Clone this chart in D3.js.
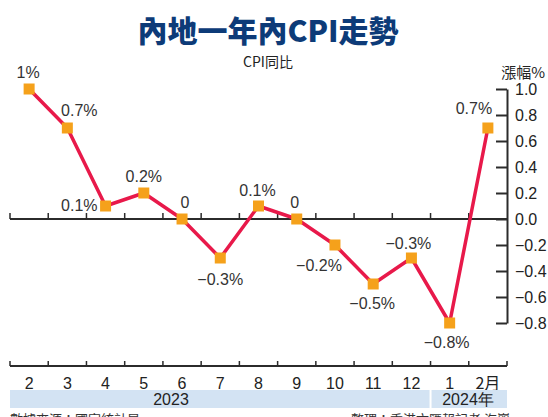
<!DOCTYPE html>
<html>
<head>
<meta charset="utf-8">
<script src="https://cdn.jsdelivr.net/npm/d3@7"></script>
<style>
  html, body { margin: 0; padding: 0; background: #fff; }
  svg { display: block; }
  .narrow { font-family: "Liberation Sans Narrow", "Arial Narrow", "Liberation Sans", sans-serif; }
  .cjk { font-family: "Noto Sans CJK TC", "Noto Sans CJK SC", sans-serif; }
</style>
</head>
<body>
<svg id="chart" width="548" height="417"></svg>
<script>
// ---- data ----
const months = ["2", "3", "4", "5", "6", "7", "8", "9", "10", "11", "12", "1", "2月"];
const monthKeys = ["2023-02","2023-03","2023-04","2023-05","2023-06","2023-07","2023-08","2023-09","2023-10","2023-11","2023-12","2024-01","2024-02"];
const cpiValues = [1.0, 0.7, 0.1, 0.2, 0, -0.3, 0.1, 0, -0.2, -0.5, -0.3, -0.8, 0.7];
const pointLabels = ["1%", "0.7%", "0.1%", "0.2%", "0", "−0.3%", "0.1%", "0", "−0.2%", "−0.5%", "−0.3%", "−0.8%", "0.7%"];
const yTicks = [1.0, 0.8, 0.6, 0.4, 0.2, 0.0, -0.2, -0.4, -0.6, -0.8];
const years = [
  { label: "2023", from: "2023-02", to: "2023-12" },
  { label: "2024年", from: "2024-01", to: "2024-02" }
];
const title = "內地一年內CPI走勢";
const subtitle = "CPI同比";
const yUnit = "漲幅%";
const sourceLeft = "數據來源：國家統計局";
const sourceRight = "整理：香港文匯報記者 海巖";

// label placement (layout config): [dx, dy, anchor]
const labelPlace = [
  [-1, -11, "middle"], [12, -12, "middle"], [-8, 5, "end"], [0, -11, "middle"],
  [3, -11, "middle"], [0, 27, "middle"], [-1, -10, "middle"], [-2, -11, "middle"],
  [-16, 26, "middle"], [-1, 25, "middle"], [-3, -9, "middle"], [-3, 25, "middle"],
  [-14, -14, "middle"]
];

// ---- layout ----
const svg = d3.select("#chart");
const left = 10, right = 507;
const x = d3.scaleBand().domain(monthKeys).range([left, right]);
const y = d3.scaleLinear().domain([-0.8, 1.0]).range([323, 89]);
const y0 = y(0);
const ink = "#2b2b2b";

// title
svg.append("text").attr("class", "cjk")
  .attr("x", 268).attr("y", 42).attr("text-anchor", "middle")
  .attr("font-size", 30).attr("font-weight", 900).attr("fill", "#0d3b78")
  .text(title);
svg.append("text").attr("class", "cjk")
  .attr("x", 268).attr("y", 67).attr("text-anchor", "middle")
  .attr("font-size", 14).attr("fill", "#222").text(subtitle);
svg.append("text").attr("class", "cjk")
  .attr("x", 545).attr("y", 78).attr("text-anchor", "end")
  .attr("font-size", 15).attr("fill", "#222").text(yUnit);

// y axis on the right
const yAxis = d3.axisRight(y).tickValues(yTicks).tickSizeInner(-11).tickSizeOuter(0).tickPadding(8)
  .tickFormat(d => (d < 0 ? "−" + Math.abs(d).toFixed(1) : d.toFixed(1)));
const gy = svg.append("g").attr("transform", `translate(${right},0)`).call(yAxis);
gy.select(".domain").attr("stroke", ink).attr("stroke-width", 2);
gy.selectAll(".tick line").attr("stroke", ink).attr("stroke-width", 2);
gy.selectAll(".tick text").attr("class", "narrow").attr("font-size", 16).attr("fill", "#222")
  .attr("font-family", null);

// zero baseline with boundary ticks
svg.append("line").attr("x1", left).attr("x2", right).attr("y1", y0).attr("y2", y0)
  .attr("stroke", ink).attr("stroke-width", 2);
svg.selectAll(".ztick").data(monthKeys).join("line").attr("class", "ztick")
  .attr("x1", d => x(d)).attr("x2", d => x(d))
  .attr("y1", y0).attr("y2", y0 - 6)
  .attr("stroke", ink).attr("stroke-width", 1.5);

// line + markers
const line = d3.line().x((d, i) => x(monthKeys[i]) + x.bandwidth() / 2).y(d => y(d));
svg.append("path").datum(cpiValues).attr("d", line)
  .attr("fill", "none").attr("stroke", "#e8194a").attr("stroke-width", 3.5)
  .attr("stroke-linejoin", "round");
const ms = 11;
svg.selectAll(".mk").data(cpiValues).join("rect").attr("class", "mk")
  .attr("x", (d, i) => x(monthKeys[i]) + x.bandwidth() / 2 - ms / 2)
  .attr("y", d => y(d) - ms / 2)
  .attr("width", ms).attr("height", ms).attr("fill", "#f5a11b");

// value labels
svg.selectAll(".vl").data(cpiValues).join("text").attr("class", "vl narrow")
  .attr("x", (d, i) => x(monthKeys[i]) + x.bandwidth() / 2 + labelPlace[i][0])
  .attr("y", (d, i) => y(d) + labelPlace[i][1])
  .attr("text-anchor", (d, i) => labelPlace[i][2])
  .attr("font-size", 16).attr("fill", "#333")
  .text((d, i) => pointLabels[i]);

// bottom month axis
const by = 366;
svg.append("line").attr("x1", left).attr("x2", right).attr("y1", by).attr("y2", by)
  .attr("stroke", ink).attr("stroke-width", 2);
svg.selectAll(".btick").data([...monthKeys.map(d => x(d)), right]).join("line").attr("class", "btick")
  .attr("x1", d => d).attr("x2", d => d).attr("y1", by).attr("y2", by - 5)
  .attr("stroke", ink).attr("stroke-width", 1.5);
svg.selectAll(".ml").data(months).join("text").attr("class", (d) => "ml " + (d.includes("月") ? "cjk" : "narrow"))
  .attr("x", (d, i) => x(monthKeys[i]) + x.bandwidth() / 2)
  .attr("y", 389).attr("text-anchor", "middle")
  .attr("font-size", 16).attr("fill", "#222").text(d => d);

// year bands
const yearTextX = { "2023": 171, "2024年": 468 };
years.forEach((yr, i) => {
  const x1 = x(yr.from) + (i > 0 ? 1 : 0);
  const x2 = x(yr.to) + x.bandwidth() - (i === 0 ? 1 : 0);
  svg.append("rect").attr("x", x1).attr("y", 390).attr("width", x2 - x1).attr("height", 18)
    .attr("fill", "#d3e3f3");
  svg.append("text").attr("class", "narrow")
    .attr("x", yearTextX[yr.label]).attr("y", 405).attr("text-anchor", "middle")
    .attr("font-size", 16).attr("fill", "#222").text(yr.label);
});

// sources (cut off at bottom edge)
svg.append("text").attr("class", "cjk").attr("x", 10).attr("y", 424)
  .attr("font-size", 13).attr("fill", "#333").text(sourceLeft);
svg.append("text").attr("class", "cjk").attr("x", 510).attr("y", 424).attr("text-anchor", "end")
  .attr("font-size", 13).attr("fill", "#333").text(sourceRight);
</script>
</body>
</html>
